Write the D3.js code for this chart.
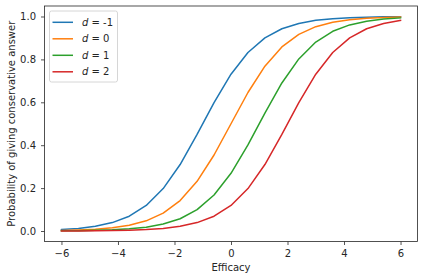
<!DOCTYPE html>
<html>
<head>
<meta charset="utf-8">
<script src="https://cdn.jsdelivr.net/npm/d3@7"></script>
<style>
  body { margin: 0; background: #fff; }
  text { font-family: "DejaVu Sans", sans-serif; }
</style>
</head>
<body>
<svg id="chart" width="424" height="280"></svg>
<script>
// efficacy grid (21 points from -6 to 6)
var efficacy = [-6, -5.4, -4.8, -4.2, -3.6, -3, -2.4, -1.8, -1.2, -0.6, 0,
    0.6, 1.2, 1.8, 2.4, 3, 3.6, 4.2, 4.8, 5.4, 6];

var dLabels = ["-1", "0", "1", "2"];
var colors = ["#1f77b4", "#ff7f0e", "#2ca02c", "#d62728"];

var probDm1 = [0.0067, 0.0121, 0.0219, 0.0392, 0.0691, 0.1192, 0.1978, 0.3100, 0.4502, 0.5987, 0.7311,
    0.8320, 0.9002, 0.9427, 0.9677, 0.9820, 0.9900, 0.9945, 0.9970, 0.9983, 0.9991];
var probD0 = [0.0025, 0.0045, 0.0082, 0.0148, 0.0266, 0.0474, 0.0832, 0.1419, 0.2315, 0.3543, 0.5000,
    0.6457, 0.7685, 0.8581, 0.9168, 0.9526, 0.9734, 0.9852, 0.9918, 0.9955, 0.9975];
var probD1 = [0.0009, 0.0017, 0.0030, 0.0055, 0.0100, 0.0180, 0.0323, 0.0573, 0.0998, 0.1680, 0.2689,
    0.4013, 0.5498, 0.6900, 0.8022, 0.8808, 0.9309, 0.9608, 0.9781, 0.9879, 0.9933];
var probD2 = [0.0003, 0.0006, 0.0011, 0.0020, 0.0037, 0.0067, 0.0121, 0.0219, 0.0392, 0.0691, 0.1192,
    0.1978, 0.3100, 0.4502, 0.5987, 0.7311, 0.8320, 0.9002, 0.9427, 0.9677, 0.9820];

var xTicks = [-6, -4, -2, 0, 2, 4, 6];
var yTicks = [0, 0.2, 0.4, 0.6, 0.8, 1.0];

var series = [probDm1, probD0, probD1, probD2];

var plotL = 44.5, plotR = 417.5, plotT = 6, plotB = 241.5;
var svg = d3.select("#chart");

var x = d3.scaleLinear().domain([-6.6, 6.6]).range([plotL, plotR]);
var y = d3.scaleLinear().domain([-0.0489, 1.0489]).range([plotB, plotT]);

var line = d3.line()
    .x(function (d, i) { return x(efficacy[i]); })
    .y(function (d) { return y(d); });

series.forEach(function (s, k) {
    svg.append("path")
        .attr("d", line(s))
        .attr("fill", "none")
        .attr("stroke", colors[k])
        .attr("stroke-width", 1.5)
        .attr("stroke-linejoin", "round")
        .attr("stroke-linecap", "square");
});

// axes
var fmtMinus = function (v) { return d3.format("d")(v).replace("-", "\u2212"); };
var xAxis = svg.append("g")
    .attr("transform", "translate(0," + plotB + ")")
    .call(d3.axisBottom(x).tickValues(xTicks).tickSize(3.5).tickPadding(5).tickFormat(fmtMinus));
var yAxis = svg.append("g")
    .attr("transform", "translate(" + plotL + ",0)")
    .call(d3.axisLeft(y).tickValues(yTicks).tickSize(3.5).tickPadding(5).tickFormat(d3.format(".1f")));

[xAxis, yAxis].forEach(function (a) {
    a.select(".domain").remove();
    a.selectAll("text").attr("font-size", 10).attr("fill", "#262626")
        .style("font-family", "DejaVu Sans");
    a.selectAll("line").attr("stroke", "#262626").attr("stroke-width", 0.8);
});

svg.append("rect")
    .attr("x", plotL).attr("y", plotT)
    .attr("width", plotR - plotL).attr("height", plotB - plotT)
    .attr("fill", "none").attr("stroke", "#262626").attr("stroke-width", 0.8);

svg.append("text")
    .attr("x", (plotL + plotR) / 2).attr("y", 270.5)
    .attr("text-anchor", "middle").attr("font-size", 10).attr("fill", "#262626")
    .text("Efficacy");

svg.append("text")
    .attr("transform", "translate(15," + ((plotT + plotB) / 2) + ") rotate(-90)")
    .attr("text-anchor", "middle").attr("font-size", 10).attr("fill", "#262626")
    .text("Probability of giving conservative answer");

// legend
var lg = svg.append("g");
lg.append("rect")
    .attr("x", 49.5).attr("y", 11).attr("width", 68).attr("height", 71)
    .attr("rx", 2).attr("fill", "#fff").attr("fill-opacity", 0.8)
    .attr("stroke", "#cccccc").attr("stroke-width", 0.8);

dLabels.forEach(function (lab, k) {
    var cy = 22.3 + k * 16.5;
    lg.append("line")
        .attr("x1", 52.5).attr("x2", 73).attr("y1", cy).attr("y2", cy)
        .attr("stroke", colors[k]).attr("stroke-width", 1.5);
    var t = lg.append("text")
        .attr("x", 82).attr("y", cy + 3.6)
        .attr("font-size", 10).attr("fill", "#262626");
    t.append("tspan").attr("font-style", "italic").text("d");
    t.append("tspan").text(" = " + lab);
});
</script>
</body>
</html>
